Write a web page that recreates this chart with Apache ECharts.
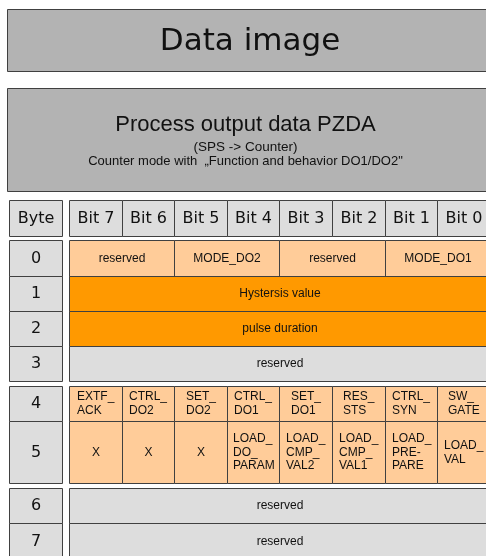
<!DOCTYPE html>
<html><head><meta charset="utf-8">
<script src="https://cdn.jsdelivr.net/npm/echarts@6/dist/echarts.min.js"></script>
<style>html,body{margin:0;padding:0;background:#fff}#c{width:486px;height:556px}</style>
</head><body><div id="c"></div><script>
// ---------- data ----------
const titleMain = 'Data image';
const titleSub = ['Process output data PZDA', '(SPS -> Counter)', 'Counter mode with  \u201EFunction and behavior DO1/DO2"'];
const byteHeader = 'Byte';
const bitLabels = ['Bit 7', 'Bit 6', 'Bit 5', 'Bit 4', 'Bit 3', 'Bit 2', 'Bit 1', 'Bit 0'];
const byteNumbers = ['0', '1', '2', '3', '4', '5', '6', '7'];
// fields: [text, highest bit, lowest bit]
const byte0 = [['reserved', 7, 6], ['MODE_DO2', 5, 4], ['reserved', 3, 2], ['MODE_DO1', 1, 0]];
const byte1 = [['Hystersis value', 7, 0]];
const byte2 = [['pulse duration', 7, 0]];
const byte3 = [['reserved', 7, 0]];
const byte4 = ['EXTF_\nACK', 'CTRL_\nDO2', 'SET_\nDO2', 'CTRL_\nDO1', 'SET_\nDO1', 'RES_\nSTS', 'CTRL_\nSYN', 'SW_\nGATE'];
const byte5 = ['X', 'X', 'X', 'LOAD_\nDO_\nPARAM', 'LOAD_\nCMP_\nVAL2', 'LOAD_\nCMP_\nVAL1', 'LOAD_\nPRE-\nPARE', 'LOAD_\nVAL'];
const byte6 = [['reserved', 7, 0]];
const byte7 = [['reserved', 7, 0]];
const byteKinds = ['light', 'dark', 'dark', 'grey', 'light', 'light', 'grey', 'grey'];

// ---------- layout / style ----------
const COLORS = { light: '#ffcc99', dark: '#ff9900', grey: '#dddddd', title: '#b3b3b3', head: '#dddddd', line: '#404040' };
const BYTE_COL = [-1.14, -0.133];
const TITLE_X = [-1.18, 8.04];
const TEXT2_X = [-1.18, 7.87];
const HEAD_Y = [200, 236];
const ROW_Y = [[240, 276], [276, 311], [311, 346], [346, 381], [386, 421], [421, 483], [488, 523], [523, 559]];
const TITLE1_Y = [9, 71];
const TITLE1_TEXT_Y = [10, 72];
const TITLE2_Y = [88, 191];
const SUB_Y = [[114, 134], [141, 153], [155, 167]];
const FONT_BIG = '"DejaVu Sans", sans-serif';
const FONT_SMALL = '"Liberation Sans", Arial, sans-serif';

const measure = (function () {
  const ctx = document.createElement('canvas').getContext('2d');
  return function (text, font) {
    ctx.font = font;
    return Math.max.apply(null, text.split('\n').map(l => ctx.measureText(l).width));
  };
})();

const items = [];
function add(x0, x1, y0, y1, opts) { items.push(Object.assign({ value: [x0, x1, y0, y1] }, opts)); }

// title boxes
add(TITLE_X[0], TITLE_X[1], TITLE1_Y[0], TITLE1_Y[1], { fill: COLORS.title });
add(TITLE_X[0], TITLE_X[1], TITLE1_TEXT_Y[0], TITLE1_TEXT_Y[1], { text: titleMain, font: '31px ' + FONT_BIG, noRect: true });
add(TITLE_X[0], TITLE_X[1], TITLE2_Y[0], TITLE2_Y[1], { fill: COLORS.title });
add(TEXT2_X[0], TEXT2_X[1], SUB_Y[0][0], SUB_Y[0][1], { text: titleSub[0], font: '22px ' + FONT_SMALL, noRect: true });
add(TEXT2_X[0], TEXT2_X[1], SUB_Y[1][0], SUB_Y[1][1], { text: titleSub[1], font: '13.5px ' + FONT_SMALL, noRect: true });
add(TEXT2_X[0], TEXT2_X[1], SUB_Y[2][0], SUB_Y[2][1], { text: titleSub[2], font: '13px ' + FONT_SMALL, noRect: true });

// header row
add(BYTE_COL[0], BYTE_COL[1], HEAD_Y[0], HEAD_Y[1], { fill: COLORS.head, text: byteHeader, font: '16px ' + FONT_BIG });
bitLabels.forEach((b, c) => add(c, c + 1, HEAD_Y[0], HEAD_Y[1], { fill: COLORS.head, text: b, font: '16px ' + FONT_BIG }));

// byte number column
byteNumbers.forEach((n, r) => add(BYTE_COL[0], BYTE_COL[1], ROW_Y[r][0], ROW_Y[r][1], { fill: COLORS.head, text: n, font: '16px ' + FONT_BIG }));

// byte fields
const fieldRows = [byte0, byte1, byte2, byte3, null, null, byte6, byte7];
fieldRows.forEach((fields, r) => {
  if (!fields) return;
  fields.forEach(f => add(7 - f[1], 8 - f[2], ROW_Y[r][0], ROW_Y[r][1],
    { fill: COLORS[byteKinds[r]], text: f[0], font: '12px ' + FONT_SMALL }));
});
[[4, byte4], [5, byte5]].forEach(([r, arr]) => {
  arr.forEach((t, c) => add(c, c + 1, ROW_Y[r][0], ROW_Y[r][1],
    { fill: COLORS[byteKinds[r]], text: t, font: '12px ' + FONT_SMALL, block: true, lineHeight: r === 4 ? 14 : 13.5 }));
});

const chart = echarts.init(document.getElementById('c'), null, { renderer: 'canvas' });
chart.setOption({
  animation: false,
  grid: { left: 0, right: 0, top: 0, bottom: 0 },
  xAxis: { type: 'value', min: -1.312, max: 7.928, show: false },
  yAxis: { type: 'value', min: 0, max: 556, inverse: true, show: false },
  series: [{
    type: 'custom',
    clip: false,
    data: items.map(it => it.value),
    renderItem: function (params, api) {
      const it = items[params.dataIndex];
      const p0 = api.coord([api.value(0), api.value(2)]);
      const p1 = api.coord([api.value(1), api.value(3)]);
      const x0 = Math.round(p0[0]), x1 = Math.round(p1[0]);
      const y0 = Math.round(p0[1]), y1 = Math.round(p1[1]);
      const children = [];
      if (!it.noRect) {
        children.push({
          type: 'rect',
          shape: { x: x0 + 0.5, y: y0 + 0.5, width: x1 - x0, height: y1 - y0 },
          style: { fill: it.fill, stroke: COLORS.line, lineWidth: 1 }
        });
      }
      if (it.text) {
        const cx = (x0 + x1) / 2 + 0.5, cy = (y0 + y1) / 2 + 0.5;
        let tx = cx, align = 'center';
        if (it.block && it.text.indexOf('\n') >= 0) {
          tx = Math.round(cx - measure(it.text, it.font) / 2);
          align = 'left';
        }
        children.push({
          type: 'text',
          style: {
            text: it.text, x: tx, y: cy, font: it.font, fill: '#111',
            align: align, verticalAlign: 'middle', lineHeight: it.lineHeight || undefined
          }
        });
      }
      return { type: 'group', children: children };
    }
  }]
});
</script></body></html>
